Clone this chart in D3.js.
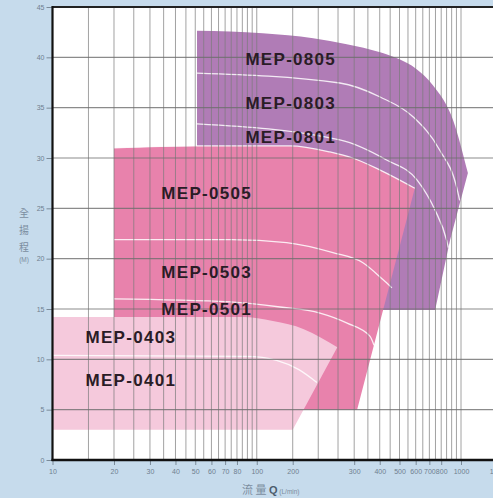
<!DOCTYPE html>
<html>
<head>
<meta charset="utf-8">
<script src="https://cdn.jsdelivr.net/npm/d3@7"></script>
<style>
  body { margin: 0; background: #c6dbec; }
  svg { display: block; }
</style>
</head>
<body>
<svg id="chart" width="493" height="498"></svg>
<script>

// Performance ranges as [Q (L/min), H (m)]
var top04 = [[10, 14.2], [85, 14.2], [120, 13.8], [170, 13.0], [248, 11.2]]
var rest04 = [[150, 3], [10, 3]]

var top05 = [[20, 31.0], [50, 31.2], [146, 31.2], [228, 30.6], [295, 30.0], [402, 28.8], [594, 27.0]]
var rest05 = [[310, 5], [20, 5]]

var top08 = [[51, 42.65], [107, 42.4], [189, 41.9], [276, 41.3], [402, 40.5], [500, 39.8], [600, 38.9], [730, 37.2], [913, 33.8], [1081, 28.5]]
var rest08 = [[884, 21.85], [747, 14.9], [51, 14.9]]

// white boundary curves between models
var line0805 = [[51, 38.44], [255, 37.45], [402, 36.06], [584, 34.07], [786, 30.8], [952, 27.1], [985, 25.8]]
var line0803 = [[51, 33.4], [255, 31.8], [432, 29.8], [610, 27.8], [747, 24.8], [850, 21.85], [867, 21.1]]
var line0505 = [[20, 21.9], [75, 21.9], [140, 21.6], [236, 20.6], [331, 19.6], [416, 17.9], [459, 17.1]]
var line0503 = [[20, 16.0], [74, 15.7], [130, 15.2], [204, 14.6], [277, 13.6], [358, 12.3], [375, 11.4]]
var line0403 = [[10, 10.4], [90, 10.3], [125, 9.9], [160, 9.0], [197, 7.7]]

var modelNames = ["MEP-0805", "MEP-0803", "MEP-0801", "MEP-0505", "MEP-0503", "MEP-0501", "MEP-0403", "MEP-0401"]
var labelQ = [88, 88, 88, 34.1, 34.1, 34.1, 14.5, 14.5]
var labelH = [39.2, 34.9, 31.5, 25.9, 18.1, 14.4, 11.6, 7.35]

var xTickValues = [10, 20, 30, 40, 50, 60, 70, 80, 100, 150, 300, 400, 500, 600, 700, 800, 1000, 1500]
var xTickLabels = ["10", "20", "30", "40", "50", "60", "70", "80", "100", "200", "300", "400", "500", "600", "700", "800", "1000", "1500"]
var yTickValues = [0, 5, 10, 15, 20, 25, 30, 35, 40, 45]
var xGrid = [15, 20, 25, 30, 35, 40, 45, 50, 55, 60, 65, 70, 75, 80, 85, 90, 95, 100,
    150, 200, 250, 300, 350, 400, 450, 500, 550, 600, 650, 700, 750, 800, 850, 900, 950, 1000]


var svg = d3.select("#chart")

var x = d3.scaleLog().domain([10, 1000]).range([52.5, 461])
var y = d3.scaleLinear().domain([0, 45]).range([460, 7])

var curve = d3.line()
    .x(function(d) { return x(d[0]) })
    .y(function(d) { return y(d[1]) })
    .curve(d3.curveMonotoneX)

//Curved top edge followed by straight right / bottom edges
function regionPath(top, rest) {
    var straight = rest.map(function(p) {
        return "L" + x(p[0]) + "," + y(p[1])
    }).join("")
    return curve(top) + straight + "Z"
}

// plot background
svg.append("rect")
    .attr("x", x(10))
    .attr("y", y(45))
    .attr("width", 493 - x(10))
    .attr("height", y(0) - y(45))
    .attr("fill", "#ffffff")

var regions = [
    {top: top08, rest: rest08, color: "#b07cb6", lines: [line0805, line0803]},
    {top: top05, rest: rest05, color: "#e882ac", lines: [line0505, line0503]},
    {top: top04, rest: rest04, color: "#f5c9dc", lines: [line0403]}
]

regions.forEach(function(r) {
    svg.append("path")
        .attr("d", regionPath(r.top, r.rest))
        .attr("fill", r.color)

    r.lines.forEach(function(l) {
        svg.append("path")
            .attr("d", curve(l))
            .attr("fill", "none")
            .attr("stroke", "#ffffff")
            .attr("stroke-opacity", 0.85)
            .attr("stroke-width", 1.3)
    })
})

// white edge where the 05 range meets the 08 range
svg.append("path")
    .attr("d", curve(top05))
    .attr("fill", "none")
    .attr("stroke", "#ffffff")
    .attr("stroke-opacity", 0.85)
    .attr("stroke-width", 1.3)

// grid on top of the ranges
svg.selectAll(".vgrid")
    .data(xGrid)
    .enter()
    .append("line")
    .attr("class", "vgrid")
    .attr("x1", function(d) { return x(d) })
    .attr("x2", function(d) { return x(d) })
    .attr("y1", y(45))
    .attr("y2", y(0))
    .attr("stroke", "#7a7a7a")
    .attr("stroke-opacity", 0.7)
    .attr("stroke-width", 1)

svg.selectAll(".hgrid")
    .data(yTickValues.slice(1, 9))
    .enter()
    .append("line")
    .attr("class", "hgrid")
    .attr("x1", x(10))
    .attr("x2", 493)
    .attr("y1", function(d) { return y(d) })
    .attr("y2", function(d) { return y(d) })
    .attr("stroke", "#6e6e6e")
    .attr("stroke-opacity", 0.8)
    .attr("stroke-width", 1.2)

// model labels
svg.selectAll(".model")
    .data(modelNames)
    .enter()
    .append("text")
    .attr("class", "model")
    .attr("x", function(d, i) { return x(labelQ[i]) })
    .attr("y", function(d, i) { return y(labelH[i]) })
    .attr("font-family", "Liberation Sans, Arial, sans-serif")
    .attr("font-weight", "bold")
    .attr("font-size", 17)
    .attr("letter-spacing", 1.3)
    .attr("fill", "#2a1c26")
    .text(function(d) { return d })

// axes
var xAxis = d3.axisBottom(x)
    .tickValues(xTickValues)
    .tickFormat(function(d, i) { return xTickLabels[i] })
    .tickSize(5)
    .tickPadding(4)

var yAxis = d3.axisLeft(y)
    .tickValues(yTickValues)
    .tickSize(6)
    .tickPadding(2)

var gx = svg.append("g")
    .attr("transform", "translate(0," + y(0) + ")")
    .call(xAxis)

var gy = svg.append("g")
    .attr("transform", "translate(" + x(10) + ",0)")
    .call(yAxis)

;[gx, gy].forEach(function(g) {
    g.select(".domain").remove()
    g.selectAll(".tick line").attr("stroke", "#7a8a98")
    g.selectAll(".tick text")
        .attr("fill", "#6f7f8f")
        .attr("font-family", "Liberation Sans, Arial, sans-serif")
        .attr("font-size", 7)
})

// frame
svg.append("line")
    .attr("x1", x(10)).attr("x2", 493)
    .attr("y1", y(45)).attr("y2", y(45))
    .attr("stroke", "#222").attr("stroke-width", 2)
svg.append("line")
    .attr("x1", x(10)).attr("x2", x(10))
    .attr("y1", y(45) - 1).attr("y2", y(0) + 1)
    .attr("stroke", "#111").attr("stroke-width", 2.2)
svg.append("line")
    .attr("x1", x(10) - 1).attr("x2", 493)
    .attr("y1", y(0)).attr("y2", y(0))
    .attr("stroke", "#111").attr("stroke-width", 2.5)

// axis titles
var ytitle = ["全", "揚", "程"]
svg.selectAll(".ytitle")
    .data(ytitle)
    .enter()
    .append("text")
    .attr("x", 24)
    .attr("y", function(d, i) { return 217 + i * 17 })
    .attr("text-anchor", "middle")
    .attr("font-family", "Noto Sans CJK TC, sans-serif")
    .attr("font-size", 10)
    .attr("fill", "#7b8da0")
    .text(function(d) { return d })

svg.append("text")
    .attr("x", 24)
    .attr("y", 262)
    .attr("text-anchor", "middle")
    .attr("font-family", "Liberation Sans, Arial, sans-serif")
    .attr("font-size", 6.5)
    .attr("fill", "#7b8da0")
    .text("(M)")

var xt = svg.append("text")
    .attr("x", 242)
    .attr("y", 494)
    .attr("font-size", 11)
    .attr("fill", "#7b8da0")
xt.append("tspan")
    .attr("font-family", "Noto Sans CJK TC, sans-serif")
    .text("流 量 ")
xt.append("tspan")
    .attr("font-family", "Liberation Sans, Arial, sans-serif")
    .attr("font-weight", "bold")
    .attr("fill", "#4d5d6e")
    .text("Q")
xt.append("tspan")
    .attr("font-family", "Liberation Sans, Arial, sans-serif")
    .attr("font-size", 6.5)
    .text(" (L/min)")

</script>
</body>
</html>
